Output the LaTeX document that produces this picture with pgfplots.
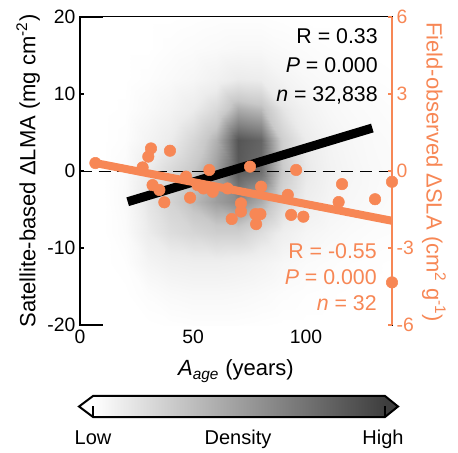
\documentclass[border=0pt]{standalone}
\usepackage{pgfplots}
\pgfplotsset{compat=1.18}
\usepackage{fontspec}
\setmainfont{Liberation Sans}
\definecolor{org}{RGB}{247,135,85}
\definecolor{cbdark}{RGB}{62,62,62}
\pgfplotstableread{
x y z
10 -20 0
20 -20 0
30 -20 0
40 -20 0.01
50 -20 0.02
60 -20 0.02
70 -20 0.02
80 -20 0.01
90 -20 0
100 -20 0
110 -20 0
120 -20 0
130 -20 0
140 -20 0
10 -16 0
20 -16 0
30 -16 0.04
40 -16 0.08
50 -16 0.10
60 -16 0.10
70 -16 0.09
80 -16 0.07
90 -16 0.04
100 -16 0.02
110 -16 0.01
120 -16 0
130 -16 0
140 -16 0
10 -12 0
20 -12 0.02
30 -12 0.14
40 -12 0.20
50 -12 0.22
60 -12 0.22
70 -12 0.20
80 -12 0.16
90 -12 0.10
100 -12 0.06
110 -12 0.04
120 -12 0.02
130 -12 0.01
140 -12 0
10 -8 0
20 -8 0.05
30 -8 0.25
40 -8 0.35
50 -8 0.40
60 -8 0.45
70 -8 0.45
80 -8 0.35
90 -8 0.22
100 -8 0.13
110 -8 0.09
120 -8 0.06
130 -8 0.04
140 -8 0.03
10 -4 0
20 -4 0.07
30 -4 0.30
40 -4 0.42
50 -4 0.55
60 -4 0.65
70 -4 0.72
80 -4 0.60
90 -4 0.38
100 -4 0.22
110 -4 0.14
120 -4 0.10
130 -4 0.07
140 -4 0.05
10 0 0
20 0 0.06
30 0 0.25
40 0 0.38
50 0 0.50
60 0 0.65
70 0 0.88
80 0 0.82
90 0 0.48
100 0 0.28
110 0 0.17
120 0 0.12
130 0 0.08
140 0 0.06
10 4 0
20 4 0.03
30 4 0.15
40 4 0.25
50 4 0.40
60 4 0.58
70 4 0.90
80 4 0.85
90 4 0.45
100 4 0.25
110 4 0.15
120 4 0.10
130 4 0.07
140 4 0.05
10 8 0
20 8 0.01
30 8 0.08
40 8 0.15
50 8 0.25
60 8 0.38
70 8 0.60
80 8 0.55
90 8 0.30
100 8 0.17
110 8 0.10
120 8 0.07
130 8 0.05
140 8 0.03
10 12 0
20 12 0
30 12 0.03
40 12 0.07
50 12 0.11
60 12 0.18
70 12 0.26
80 12 0.24
90 12 0.15
100 12 0.09
110 12 0.06
120 12 0.04
130 12 0.02
140 12 0.01
10 16 0
20 16 0
30 16 0
40 16 0.03
50 16 0.05
60 16 0.07
70 16 0.09
80 16 0.09
90 16 0.06
100 16 0.04
110 16 0.02
120 16 0.01
130 16 0
140 16 0
10 20 0
20 20 0
30 20 0
40 20 0
50 20 0.01
60 20 0.02
70 20 0.02
80 20 0.02
90 20 0.01
100 20 0
110 20 0
120 20 0
130 20 0
140 20 0
}\densitytable
\pgfplotstableread{
x y
6.8 0.31
31.4 0.88
30.2 0.56
39.8 0.79
27.7 0.14
46.9 -0.22
57.2 0.04
32.1 -0.55
35.1 -0.74
37.3 -1.22
48.7 -1.04
54.6 -0.68
58.7 -0.81
65.3 -0.68
75.2 0.17
80.1 -0.61
71.2 -1.26
71.2 -1.58
67.1 -1.87
77.6 -1.68
79.8 -1.68
77.9 -2.07
91.9 -0.93
95.6 0.04
93.4 -1.71
98.8 -1.78
115.9 -0.51
114.4 -1.21
130.5 -1.10
138.0 -0.42
138.0 -4.34
52.0 -0.55
}\fieldtable
\begin{document}
\begin{tikzpicture}
\useasboundingbox (0,0) rectangle (343.5pt,-339.75pt);
\begin{axis}[
  at={(60pt,-243.75pt)}, anchor=south west,
  width=234pt, height=231pt, scale only axis,
  xmin=0, xmax=138, ymin=-20, ymax=20,
  xtick={0,50,100}, ytick={-20,-10,0,10,20},
  tick align=inside, major tick length=3pt,
  xtick pos=left, ytick pos=left,
  axis line style={line width=1.5pt},
  tick style={line width=1pt, black},
  /pgf/number format/assume math mode=true,
  tick label style={font=\fontsize{14.5}{16}\selectfont},
  label style={font=\fontsize{16.5}{18}\selectfont},
  xlabel={\textit{A}\textsubscript{\textit{age}} (years)},
  xlabel style={at={(axis description cs:0.5,-0.15)}, anchor=center},
  ylabel={Satellite-based ΔLMA (mg cm\textsuperscript{-2})},
  ylabel style={at={(axis description cs:-0.166,0.5)}, anchor=center},
  colormap={dens}{rgb255=(255,255,255) rgb255=(236,236,236) rgb255=(200,200,200) rgb255=(130,130,130) rgb255=(55,55,55)},
  point meta min=0, point meta max=1,
]
\addplot[surf, shader=interp, mesh/cols=14, point meta=explicit] table[x=x, y=y, meta=z] {\densitytable};
\addplot[black, line width=0.6pt, dash pattern=on 9pt off 5pt] coordinates {(0,0) (138,0)};
\addplot[black, line width=6.75pt] coordinates {(21.1,-3.99) (129.3,5.58)};
\end{axis}
\begin{axis}[
  at={(60pt,-243.75pt)}, anchor=south west,
  width=234pt, height=231pt, scale only axis,
  xmin=0, xmax=138, ymin=-6, ymax=6,
  axis x line=none, axis y line*=right,
  ytick={-6,-3,0,3,6}, ytick pos=right,
  tick align=inside, major tick length=3pt,
  axis line style={line width=1.5pt, org},
  tick style={line width=1pt, org},
  /pgf/number format/assume math mode=true,
  tick label style={font=\fontsize{14.5}{16}\selectfont, text=org},
]
\addplot[org, line width=6pt] coordinates {(6.8,0.31) (138,-1.94)};
\addplot[only marks, mark=*, mark size=4.3pt, mark options={fill=org, draw=org}] table[x=x, y=y] {\fieldtable};
\end{axis}
\begin{scope}[x=0.75pt, y=-0.75pt]
\node[rotate=-90, anchor=center, text=org, font=\fontsize{16.5}{18}\selectfont] at (434,172) {Field-observed ΔSLA (cm\textsuperscript{2} g\textsuperscript{-1})};
\begin{scope}[font=\fontsize{16}{18}\selectfont]
\node[anchor=mid east, inner sep=0pt] at (378,40) {R = 0.33};
\node[anchor=mid east, inner sep=0pt] at (378,69) {\textit{P} = 0.000};
\node[anchor=mid east, inner sep=0pt] at (378,98) {\textit{n} = 32,838};
\node[anchor=mid east, inner sep=0pt, text=org] at (377,255) {R = -0.55};
\node[anchor=mid east, inner sep=0pt, text=org] at (377,281) {\textit{P} = 0.000};
\node[anchor=mid east, inner sep=0pt, text=org] at (377,307) {\textit{n} = 32};
\end{scope}
\shade[left color=white, right color=cbdark] (93,396) rectangle (385,417);
\fill[white] (79,406.5)--(93,396)--(93,417)--cycle;
\fill[cbdark] (385,396)--(398,406.5)--(385,417)--cycle;
\draw[line width=1.5pt, line join=miter] (79,406.5)--(93,396)--(385,396)--(398,406.5)--(385,417)--(93,417)--cycle;
\draw[line width=1pt] (93,417)--(93,406) (385,417)--(385,406);
\begin{scope}[font=\fontsize{15}{17}\selectfont]
\node[anchor=mid] at (93,441) {Low};
\node[anchor=mid] at (238,441) {Density};
\node[anchor=mid] at (383,441) {High};
\end{scope}
\end{scope}
\end{tikzpicture}
\end{document}
